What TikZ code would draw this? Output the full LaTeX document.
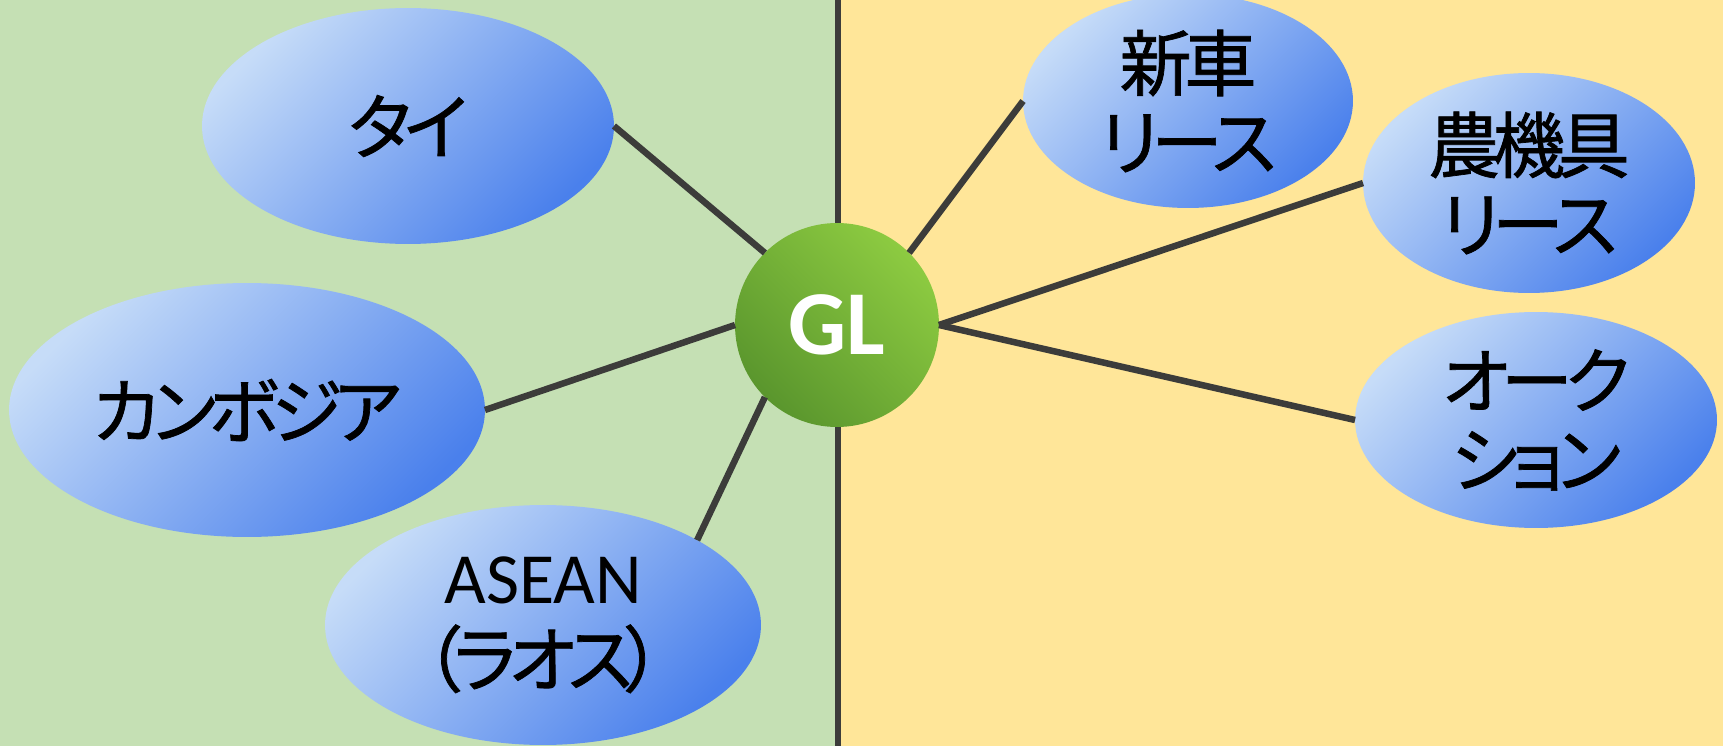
\documentclass[tikz,border=0pt]{standalone}
\usepackage{fontspec}
\setmainfont{Carlito}
\newfontfamily\jp[RawFeature=+palt, LetterSpace=-10, FakeBold=1]{Noto Sans CJK JP}
\usetikzlibrary{shapes.geometric}
\definecolor{bggreen}{HTML}{C5E0B4}
\definecolor{bgyellow}{HTML}{FFE699}
\definecolor{blLight}{HTML}{C6DCF8}
\definecolor{blMid}{HTML}{88B3F2}
\definecolor{blDark}{HTML}{4A80EC}
\definecolor{grLight}{HTML}{8DCB41}
\definecolor{grDark}{HTML}{5A962D}
\definecolor{linec}{HTML}{3C3C3A}
\tikzset{
  bubble/.style={ellipse, inner sep=0pt, outer sep=0pt, align=center,
    top color=blLight, middle color=blMid, bottom color=blDark, shading angle=45,
    font=\jp\fontsize{41pt}{45pt}\selectfont},
  hub/.style={circle, inner sep=0pt, outer sep=0pt, minimum size=4.08cm,
    top color=grLight, bottom color=grDark, shading angle=-45,
    text=white, font=\bfseries\fontsize{52pt}{60pt}\selectfont},
  link/.style={draw=linec, line width=0.13cm},
}
\begin{document}
\begin{tikzpicture}[x=0.02cm, y=-0.02cm]
\useasboundingbox (0,0) rectangle (1723,746);
\fill[bggreen] (0,0) rectangle (838,746);
\fill[bgyellow] (838,0) rectangle (1723,746);
\coordinate (dtop) at (838,0);
\coordinate (dbot) at (838,746);
\draw[link] (dtop) -- (dbot);

\node[bubble, minimum width=8.24cm, minimum height=4.72cm] (tai) at (408,126) {タイ};
\node[bubble, minimum width=9.52cm, minimum height=5.08cm] (camb) at (247,410) {カンボジア};
\node[bubble, minimum width=8.72cm, minimum height=4.8cm] (asean) at (543,625)
  {{\rmfamily\fontsize{41pt}{49pt}\selectfont ASEAN}\\[2pt]（ラオス）};
\node[bubble, minimum width=6.6cm, minimum height=4.28cm] (car) at (1188,101) {新車\\リース};
\node[bubble, minimum width=6.64cm, minimum height=4.4cm] (agri) at (1529,183) {農機具\\リース};
\node[bubble, minimum width=7.24cm, minimum height=4.32cm] (auct) at (1536,420) {オーク\\ション};

\node[hub] (gl) at (837,325) {GL};

\draw[link] (tai.east) -- (gl.north west);
\draw[link] (camb.east) -- (gl.west);
\draw[link] (asean.north east) -- (gl.south west);
\draw[link] (car.west) -- (gl.north east);
\draw[link] (agri.west) -- (gl.east);
\draw[link] (auct.west) -- (gl.east);
\end{tikzpicture}
\end{document}
